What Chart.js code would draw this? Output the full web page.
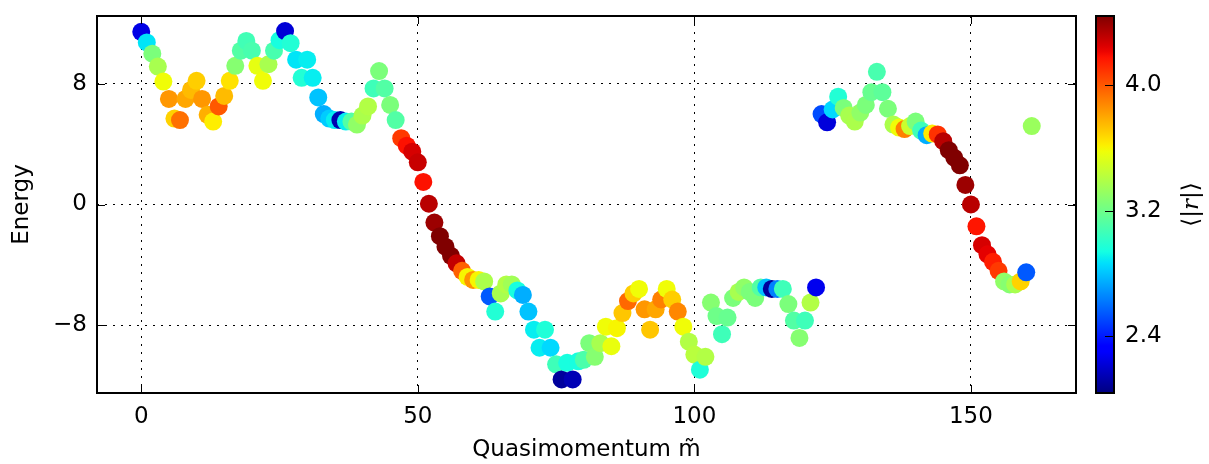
<!DOCTYPE html>
<html>
<head>
<meta charset="utf-8">
<script src="https://cdn.jsdelivr.net/npm/chart.js@4"></script>
<style>
  body { margin: 0; background: #fff; }
  canvas { display: block; }
</style>
</head>
<body>
<canvas id="chart" width="1209" height="464"></canvas>
<script>
// quasimomentum index of each state
const quasimomentum = [
  0, 1, 2, 3, 4, 5, 6, 7, 8, 9, 10, 11, 12, 13, 14, 15, 16, 17, 18, 19,
  20, 21, 22, 23, 24, 25, 26, 27, 28, 29, 30, 31, 32, 33, 34, 35, 36, 37, 38, 39,
  40, 41, 42, 43, 44, 45, 46, 47, 48, 49, 50, 51, 52, 53, 54, 55, 56, 57, 58, 59,
  60, 61, 62, 63, 64, 65, 66, 67, 68, 69, 70, 71, 72, 73, 74, 75, 76, 77, 78, 79,
  80, 81, 82, 83, 84, 85, 86, 87, 88, 89, 90, 91, 92, 93, 94, 95, 96, 97, 98, 99,
  100, 101, 102, 103, 104, 105, 106, 107, 108, 109, 110, 111, 112, 113, 114, 115, 116, 117, 118, 119,
  120, 121, 122, 123, 124, 125, 126, 127, 128, 129, 130, 131, 132, 133, 134, 135, 136, 137, 138, 139,
  140, 141, 142, 143, 144, 145, 146, 147, 148, 149, 150, 151, 152, 153, 154, 155, 156, 157, 158, 159,
  160, 161
];

const energy = [
  11.45, 10.75, 10.0, 9.15, 8.15, 7.0, 5.7, 5.6, 7.0, 7.6, 8.2, 7.0, 5.95, 5.5, 6.5, 7.2, 8.2, 9.2, 10.2, 10.85,
  10.2, 9.2, 8.2, 9.3, 10.2, 10.9, 11.5, 10.7, 9.6, 8.4, 9.6, 8.4, 7.1, 6.0, 5.7, 5.6, 5.6, 5.5, 5.5, 5.3,
  5.9, 6.5, 7.7, 8.85, 7.7, 6.6, 5.6, 4.4, 3.9, 3.5, 2.8, 1.5, 0.05, -1.2, -2.1, -2.8, -3.4, -3.9, -4.4, -4.8,
  -5.0, -5.0, -5.1, -6.1, -7.1, -5.9, -5.3, -5.3, -5.7, -6.0, -7.1, -8.3, -9.5, -8.3, -9.5, -10.6, -11.6, -10.5, -11.6, -10.4,
  -10.3, -9.2, -10.1, -9.2, -8.1, -9.4, -8.2, -7.2, -6.4, -5.9, -5.6, -6.95, -8.3, -6.95, -6.3, -5.6, -6.3, -7.1, -8.1, -9.1,
  -9.95, -10.95, -10.1, -6.5, -7.4, -8.6, -7.5, -6.2, -5.8, -5.5, -5.8, -6.2, -5.5, -5.5, -5.6, -5.6, -5.6, -6.6, -7.7, -8.85,
  -7.7, -6.5, -5.5, 6.0, 5.45, 6.3, 7.15, 6.4, 5.9, 5.5, 6.1, 6.6, 7.45, 8.8, 7.45, 6.35, 5.3, 5.1, 5.0, 5.2,
  5.5, 4.9, 4.6, 4.7, 4.65, 4.2, 3.6, 3.1, 2.6, 1.3, 0.0, -1.45, -2.7, -3.3, -3.8, -4.4, -5.1, -5.3, -5.3, -5.1,
  -4.5, 5.2
];

// mean level-spacing ratio <|r|> of each state (colour)
const ratio = [
  2.25, 2.88, 3.24, 3.37, 3.58, 3.84, 3.69, 3.94, 3.80, 3.75, 3.70, 3.84, 3.78, 3.62, 4.00, 3.75, 3.65, 3.27, 3.12, 3.07,
  3.09, 3.55, 3.58, 3.37, 3.09, 2.95, 2.22, 2.98, 2.88, 2.98, 2.90, 2.90, 2.80, 2.75, 2.82, 2.90, 2.14, 2.90, 3.12, 3.30,
  3.38, 3.40, 3.06, 3.24, 3.12, 3.24, 3.12, 4.08, 4.18, 4.26, 4.29, 4.18, 4.32, 4.38, 4.44, 4.44, 4.44, 4.30, 3.98, 3.60,
  3.85, 3.60, 3.38, 2.55, 2.98, 3.37, 3.40, 3.35, 2.95, 2.75, 2.80, 2.90, 2.90, 2.97, 2.85, 3.06, 2.10, 2.95, 2.15, 2.95,
  3.10, 3.24, 3.27, 3.37, 3.58, 3.56, 3.60, 3.72, 3.96, 3.70, 3.58, 3.84, 3.72, 3.80, 3.90, 3.58, 3.70, 3.88, 3.58, 3.40,
  3.42, 2.97, 3.40, 3.27, 3.20, 3.06, 3.18, 3.24, 3.37, 3.30, 3.24, 3.24, 3.12, 2.80, 2.10, 2.64, 3.06, 3.24, 3.12, 3.27,
  3.06, 3.40, 2.27, 2.52, 2.23, 2.85, 2.98, 3.24, 3.37, 3.38, 3.30, 3.24, 3.18, 3.09, 3.15, 3.24, 3.38, 3.58, 3.90, 3.47,
  3.24, 3.06, 2.75, 3.63, 4.10, 4.32, 4.44, 4.44, 4.44, 4.38, 4.32, 4.17, 4.26, 4.23, 4.15, 4.08, 3.30, 3.27, 3.37, 3.69,
  2.55, 3.33
];

const xTicks = [0, 50, 100, 150];
const yTicks = [-8, 0, 8];
const colorTicks = [2.4, 3.2, 4.0];
const colorMin = 2.04;
const colorMax = 4.44;

// matplotlib 'jet' segment data
const jetRed = [[0, 0], [0.35, 0], [0.66, 1], [0.89, 1], [1, 0.5]];
const jetGreen = [[0, 0], [0.125, 0], [0.375, 1], [0.64, 1], [0.91, 0], [1, 0]];
const jetBlue = [[0, 0.5], [0.11, 1], [0.34, 1], [0.65, 0], [1, 0]];

function channel(seg, t) {
  for (let i = 1; i < seg.length; i++) {
    if (t <= seg[i][0]) {
      const [x0, y0] = seg[i - 1];
      const [x1, y1] = seg[i];
      return y0 + (y1 - y0) * (t - x0) / (x1 - x0);
    }
  }
  return seg[seg.length - 1][1];
}

function jet(t) {
  t = Math.min(1, Math.max(0, t));
  const r = Math.round(channel(jetRed, t) * 255);
  const g = Math.round(channel(jetGreen, t) * 255);
  const b = Math.round(channel(jetBlue, t) * 255);
  return `rgb(${r},${g},${b})`;
}

function colorFor(v) {
  return jet((v - colorMin) / (colorMax - colorMin));
}

const fixTicks = values => scale => { scale.ticks = values.map(v => ({ value: v })); };

// fixed box sizes, and no extra room reserved for the end labels
const fixWidth = w => scale => { scale.width = w; scale.paddingTop = 0; scale.paddingBottom = 0; };
const fixHeight = h => scale => { scale.height = h; scale.paddingLeft = 0; scale.paddingRight = 0; };

Chart.defaults.font.family = "'DejaVu Sans', sans-serif";
Chart.defaults.color = '#000';

// frame with inward ticks, plus the colour bar next to the axes
const framePlugin = {
  id: 'frame',
  afterDraw(chart) {
    const { ctx, chartArea: a, scales } = chart;
    const sx = scales.x, sy = scales.y, sc = scales.c;
    ctx.save();
    ctx.strokeStyle = '#000';
    ctx.lineWidth = 1;
    ctx.beginPath();
    xTicks.forEach(v => {
      const px = Math.round(sx.getPixelForValue(v)) + 0.5;
      ctx.moveTo(px, a.bottom); ctx.lineTo(px, a.bottom - 8);
      ctx.moveTo(px, a.top); ctx.lineTo(px, a.top + 8);
    });
    yTicks.forEach(v => {
      const py = Math.round(sy.getPixelForValue(v)) + 0.5;
      ctx.moveTo(a.left, py); ctx.lineTo(a.left + 8, py);
      ctx.moveTo(a.right, py); ctx.lineTo(a.right - 8, py);
    });
    ctx.stroke();
    ctx.lineWidth = 2;
    ctx.strokeRect(a.left, a.top, a.right - a.left, a.bottom - a.top);

    // colour bar
    const barL = sc.left + 20, barW = 18;
    const top = sc.getPixelForValue(colorMax), bottom = sc.getPixelForValue(colorMin);
    const grad = ctx.createLinearGradient(0, bottom, 0, top);
    for (let i = 0; i <= 64; i++) grad.addColorStop(i / 64, jet(i / 64));
    ctx.fillStyle = grad;
    ctx.fillRect(barL, top, barW, bottom - top);
    ctx.lineWidth = 1;
    ctx.beginPath();
    colorTicks.forEach(v => {
      const py = Math.round(sc.getPixelForValue(v)) + 0.5;
      ctx.moveTo(barL + barW, py); ctx.lineTo(barL + barW - 9, py);
    });
    ctx.stroke();
    ctx.lineWidth = 2;
    ctx.strokeRect(barL, top, barW, bottom - top);

    // colour bar label <|r|>
    ctx.translate(1192, (top + bottom) / 2);
    ctx.rotate(-Math.PI / 2);
    ctx.fillStyle = '#000';
    ctx.textBaseline = 'middle';
    const parts = [
      ['\u27E8|', "23px 'DejaVu Sans'"],
      ['r', "italic 23px 'DejaVu Serif'"],
      ['|\u27E9', "23px 'DejaVu Sans'"]
    ];
    let total = 0;
    parts.forEach(p => { ctx.font = p[1]; total += ctx.measureText(p[0]).width; });
    let x = -total / 2;
    parts.forEach(p => {
      ctx.font = p[1];
      ctx.fillText(p[0], x, 0);
      x += ctx.measureText(p[0]).width;
    });
    ctx.restore();
  }
};

const points = quasimomentum.map((m, i) => ({ x: m, y: energy[i] }));

new Chart(document.getElementById('chart'), {
  type: 'scatter',
  data: {
    datasets: [{
      data: points,
      pointRadius: 9,
      pointHoverRadius: 9,
      pointBorderWidth: 0,
      pointBackgroundColor: ratio.map(colorFor)
    }]
  },
  options: {
    responsive: false,
    animation: false,
    devicePixelRatio: 1,
    layout: { padding: { top: 16, left: 0, right: 0, bottom: 0 } },
    plugins: { legend: { display: false }, tooltip: { enabled: false } },
    scales: {
      x: {
        type: 'linear',
        min: -8,
        max: 169,
        afterBuildTicks: fixTicks(xTicks),
        afterFit: fixHeight(71),
        ticks: { padding: 10, font: { size: 23 }, maxRotation: 0 },
        grid: { color: '#000', lineWidth: 1, drawTicks: false },
        border: { display: false, dash: [2, 6] },
        title: { display: true, text: 'Quasimomentum m\u0303', font: { size: 23 }, padding: { top: 0, bottom: 0 } }
      },
      y: {
        type: 'linear',
        min: -12.5,
        max: 12.5,
        afterBuildTicks: fixTicks(yTicks),
        afterFit: fixWidth(97),
        ticks: {
          padding: 10, font: { size: 23 },
          callback: v => (v < 0 ? '\u2212' + Math.abs(v) : String(v))
        },
        grid: { color: '#000', lineWidth: 1, drawTicks: false },
        border: { display: false, dash: [2, 6] },
        title: { display: true, text: 'Energy', font: { size: 23 }, padding: { top: 8, bottom: 0 } }
      },
      c: {
        type: 'linear',
        axis: 'y',
        position: 'right',
        min: colorMin,
        max: colorMax,
        afterBuildTicks: fixTicks(colorTicks),
        afterFit: fixWidth(133),
        ticks: { padding: 49, font: { size: 23 }, callback: v => v.toFixed(1) },
        grid: { display: false, drawTicks: false },
        border: { display: false }
      }
    }
  },
  plugins: [framePlugin]
});
</script>
</body>
</html>
